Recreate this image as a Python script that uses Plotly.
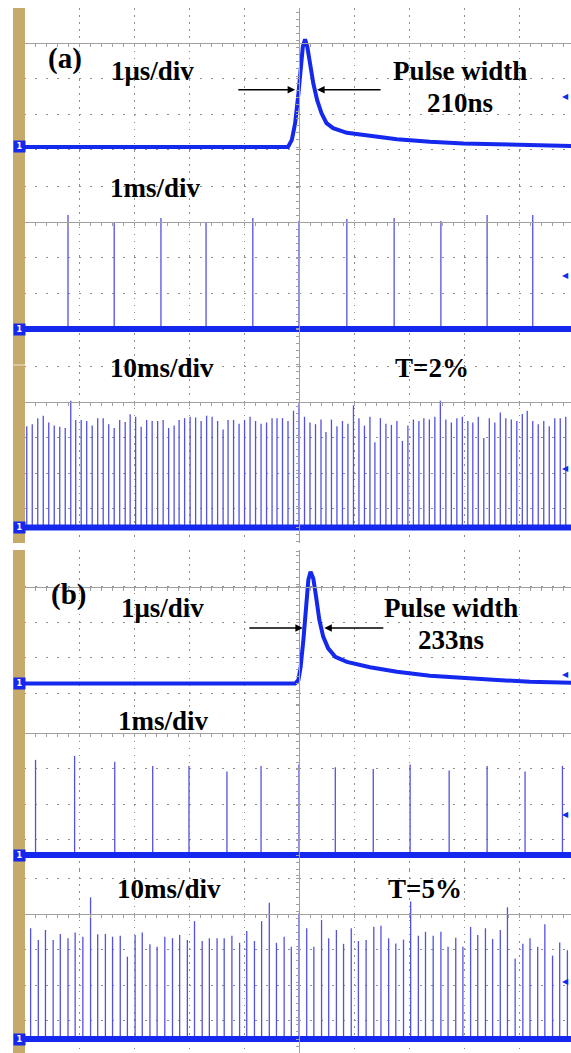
import plotly.graph_objects as go

W, H = 571, 1053

# ---------------- data (amplitudes in divisions above ground) ----------------
# (a) 1 µs/div : single pulse, time in µs
pulse_a_t = [-5.0, -0.20, -0.13, -0.07, -0.01, 0.03, 0.07, 0.11, 0.15, 0.20, 0.26, 0.33,
             0.41, 0.50, 0.62, 0.87, 1.29, 1.78, 2.38, 2.99, 3.60, 4.20, 4.95]
pulse_a_v = [0.0, 0.0, 0.20, 0.67, 1.51, 2.26, 2.83, 3.03, 2.83, 2.36, 1.79, 1.32,
             0.95, 0.67, 0.53, 0.40, 0.31, 0.22, 0.15, 0.10, 0.08, 0.05, 0.03]

# (a) 1 ms/div : pulse train, time in ms
ms_a_t = [-4.20, -3.36, -2.51, -1.69, -0.84, 0.00, 0.87, 1.73, 2.58, 3.42, 4.25]
ms_a_v = [3.21, 2.99, 3.13, 3.01, 3.13, 3.05, 3.10, 3.13, 3.04, 3.21, 3.21]

# (a) 10 ms/div : pulse train, time in ms
ten_a_t = [-49.5, -48.5, -47.5, -46.5, -45.5, -44.5, -43.5, -42.5, -41.5, -40.6,
           -39.6, -38.6, -37.6, -36.6, -35.6, -34.6, -33.6, -32.6, -31.6, -30.7,
           -29.7, -28.7, -27.7, -26.7, -25.7, -24.7, -23.7, -22.7, -21.8, -20.8,
           -19.8, -18.8, -17.8, -16.8, -15.8, -14.8, -13.8, -12.9, -11.9, -10.9,
           -9.9, -8.9, -7.9, -6.9, -5.9, -4.9, -4.0, -3.0, -2.0, -1.0,
           0.0,
           1.0, 2.0, 3.0, 4.0, 4.9, 5.9, 6.9, 7.9, 8.9, 9.9,
           10.9, 11.9, 12.9, 13.8, 14.8, 15.8, 16.8, 17.8, 18.8, 19.8,
           20.8, 21.8, 22.7, 23.7, 24.7, 25.7, 26.7, 27.7, 28.7, 29.7,
           30.7, 31.6, 32.6, 33.6, 34.6, 35.6, 36.6, 37.6, 38.6, 39.6,
           40.6, 41.5, 42.5, 43.5, 44.5, 45.5, 46.5, 47.5, 48.5]
ten_a_v = [2.85, 2.91, 3.08, 3.15, 2.96, 2.87, 2.84, 2.80, 3.57, 3.03,
           3.03, 3.00, 2.87, 3.08, 3.08, 2.91, 2.80, 3.03, 2.97, 3.19,
           3.12, 2.84, 3.03, 3.00, 3.00, 3.03, 2.80, 2.87, 3.03, 3.08,
           3.12, 3.10, 3.00, 3.15, 3.12, 3.00, 2.76, 3.03, 3.03, 2.92,
           3.03, 3.12, 3.00, 2.92, 2.96, 3.08, 3.08, 3.08, 3.00, 3.29,
           3.50,
           3.12, 2.96, 2.91, 3.04, 2.69, 3.04, 2.85, 3.00, 2.92, 3.44,
           3.08, 2.87, 3.12, 2.40, 3.08, 2.92, 2.89, 3.00, 2.44, 2.87,
           3.04, 3.00, 3.08, 3.04, 3.12, 3.57, 3.04, 2.96, 3.08, 3.12,
           3.00, 2.96, 3.12, 2.52, 3.08, 2.96, 3.24, 3.08, 3.04, 3.00,
           3.20, 3.29, 3.00, 2.91, 3.00, 2.85, 3.08, 3.08, 3.12]

# (b) 1 µs/div
pulse_b_t = [-5.0, -0.07, -0.01, 0.03, 0.08, 0.13, 0.17, 0.21, 0.26, 0.31, 0.37, 0.44,
             0.53, 0.66, 0.87, 1.29, 1.78, 2.38, 2.99, 3.60, 4.20, 4.95]
pulse_b_v = [0.0, 0.0, 0.10, 0.47, 1.23, 2.16, 2.92, 3.15, 2.96, 2.45, 1.79, 1.32,
             0.99, 0.75, 0.61, 0.46, 0.33, 0.22, 0.15, 0.10, 0.05, 0.02]

# (b) 1 ms/div
ms_b_t = [-4.79, -4.08, -3.35, -2.66, -2.00, -1.31, -0.69, 0.00, 0.66, 1.35, 2.02,
          2.73, 3.42, 4.11, 4.79]
ms_b_v = [2.68, 2.79, 2.63, 2.51, 2.51, 2.35, 2.51, 2.55, 2.47, 2.42, 2.55,
          2.38, 2.51, 2.35, 2.51]

# (b) 10 ms/div
ten_b_t = [-48.8, -47.4, -46.1, -44.7, -43.4, -42.0, -40.7, -39.3, -37.9, -36.6,
           -35.2, -33.9, -32.5, -31.2, -29.8, -28.5, -27.1, -25.8, -24.4, -23.0,
           -21.7, -20.3, -19.0, -17.6, -16.3, -14.9, -13.6, -12.2, -10.8, -9.5,
           -8.1, -6.8, -5.4, -4.1, -2.7, -1.4,
           0.0,
           1.4, 2.7, 4.1, 5.4, 6.8, 8.1, 9.5, 10.8, 12.2, 13.6,
           14.9, 16.3, 17.6, 19.0, 20.3, 21.7, 23.0, 24.4, 25.8, 27.1,
           28.5, 29.8, 31.2, 32.5, 33.9, 35.2, 36.6, 37.9, 39.3, 40.7,
           42.0, 43.4, 44.7, 46.1, 47.4, 48.8]
ten_b_v = [3.12, 2.79, 3.07, 2.79, 2.96, 2.84, 3.00, 2.88, 3.99, 2.95,
           2.96, 2.88, 2.91, 2.32, 2.93, 3.00, 2.67, 2.60, 2.88, 2.84,
           2.93, 2.79, 3.32, 2.76, 2.84, 2.84, 2.84, 2.91, 2.71, 3.04,
           2.76, 3.32, 3.84, 2.71, 2.88, 2.60, 3.54, 3.12, 2.60, 3.35,
           2.84, 3.07, 2.68, 3.12, 2.76, 2.79, 3.16, 3.19, 2.84, 2.69,
           2.80, 3.87, 2.91, 3.02, 2.91, 3.02, 2.60, 2.85, 2.60, 3.16,
           2.93, 3.12, 2.82, 3.07, 3.71, 2.27, 2.68, 2.84, 2.60, 3.23,
           2.35, 2.72, 2.50]

# trigger-level markers (div above ground) for the six screens
trigger_levels = [1.41, 1.52, 1.65, 0.24, 1.13, 1.61]

# ---------------- layout geometry (pixels) ----------------
PX_DIV_X = 55.0
PX_DIV_Y = 35.5
X_CENTER = 299.0
X_LEFT = 24.0

# (top, bottom, ground, centre line, time units per div)
screens = [
    (8, 184, 147, 43, 1),
    (184, 365, 329, 222, 1),
    (365, 543, 527.5, 402, 10),
    (550, 705, 683.5, 586.5, 1),
    (705, 870, 855, 733, 1),
    (870, 1053, 1039, 914, 10),
]

BLUE = "#1428ee"
SPIKE = "#5252de"
AXC = "#a0a0a0"
GRIDC = "#8e8e8e"

fig = go.Figure()


def px_y(p):
    return 1 - p / H


layout_axes = {}
for i, (top, bot, gnd, cen, scale) in enumerate(screens, start=1):
    xr = [(X_LEFT - X_CENTER) / PX_DIV_X * scale, (W - X_CENTER) / PX_DIV_X * scale]
    yr = [(gnd - bot) / PX_DIV_Y, (gnd - top) / PX_DIV_Y]
    sfx = "" if i == 1 else str(i)
    layout_axes["xaxis" + sfx] = dict(
        domain=[X_LEFT / W, 1], range=xr, anchor="free", position=px_y(cen),
        showline=True, linecolor=AXC, linewidth=1,
        ticks="outside", ticklen=3, tickcolor=AXC, tickwidth=1,
        tick0=0, dtick=scale,
        minor=dict(dtick=scale / 5, ticks="outside", ticklen=3, tickcolor=AXC,
                   tickwidth=1, showgrid=False),
        showticklabels=False, showgrid=True, gridcolor=GRIDC, gridwidth=1.4,
        griddash="1.5px,5.6px", zeroline=False, fixedrange=True,
    )
    layout_axes["yaxis" + sfx] = dict(
        domain=[px_y(bot), px_y(top)], range=yr, anchor="free", position=X_CENTER / W,
        showline=True, linecolor=AXC, linewidth=1,
        ticks="outside", ticklen=3, tickcolor=AXC, tickwidth=1,
        tick0=(gnd - cen) / PX_DIV_Y, dtick=1,
        minor=dict(dtick=0.2, ticks="outside", ticklen=3, tickcolor=AXC,
                   tickwidth=1, showgrid=False),
        showticklabels=False, showgrid=True, gridcolor=GRIDC, gridwidth=1.4,
        griddash="1.5px,9.5px", zeroline=False, fixedrange=True,
    )

fig.update_layout(**layout_axes)


def axes_of(n):
    return ("x" if n == 1 else f"x{n}"), ("y" if n == 1 else f"y{n}")


def add_pulse(t, v, n):
    xa, ya = axes_of(n)
    fig.add_trace(go.Scatter(x=t, y=v, mode="lines", xaxis=xa, yaxis=ya,
                             line=dict(color=BLUE, width=4), hoverinfo="skip"))


def add_train(t, v, n):
    xs, ys = [], []
    for tt, vv in zip(t, v):
        xs += [tt, tt, None]
        ys += [0, vv, None]
    xa, ya = axes_of(n)
    fig.add_trace(go.Scatter(x=xs, y=ys, mode="lines", xaxis=xa, yaxis=ya,
                             line=dict(color=SPIKE, width=1.3), hoverinfo="skip"))
    rng = layout_axes["xaxis" + ("" if n == 1 else str(n))]["range"]
    fig.add_trace(go.Scatter(x=rng, y=[0, 0], mode="lines", xaxis=xa, yaxis=ya,
                             line=dict(color=BLUE, width=6), hoverinfo="skip"))


add_pulse(pulse_a_t, pulse_a_v, 1)
add_train(ms_a_t, ms_a_v, 2)
add_train(ten_a_t, ten_a_v, 3)
add_pulse(pulse_b_t, pulse_b_v, 4)
add_train(ms_b_t, ms_b_v, 5)
add_train(ten_b_t, ten_b_v, 6)

# ---------------- decorations ----------------
TAN = "#c6aa6b"
shapes = [
    dict(type="rect", xref="paper", yref="paper", x0=13 / W, x1=25 / W,
         y0=px_y(543), y1=px_y(8), fillcolor=TAN, line=dict(width=0), layer="above"),
    dict(type="rect", xref="paper", yref="paper", x0=13 / W, x1=25 / W,
         y0=px_y(1053), y1=px_y(550), fillcolor=TAN, line=dict(width=0), layer="above"),
    dict(type="line", xref="paper", yref="paper", x0=13 / W, x1=25 / W,
         y0=px_y(365), y1=px_y(365), line=dict(color="#efe6d0", width=1), layer="above"),
]

FONT = dict(family="Liberation Serif, Times New Roman, serif", size=27, color="black",
            weight="bold")


def label(text, xp, yp, size=27):
    f = dict(FONT)
    f["size"] = size
    return dict(text=text, x=xp / W, y=px_y(yp), xref="paper", yref="paper",
                showarrow=False, xanchor="center", yanchor="middle", font=f)


annotations = [
    label("(a)", 65, 58, 29),
    label("1μs/div", 152, 71),
    label("Pulse width", 460, 71),
    label("210ns", 460, 103),
    label("1ms/div", 155, 188),
    label("10ms/div", 162, 368),
    label("T=2%", 432, 368),
    label("(b)", 68, 594, 29),
    label("1μs/div", 162, 608),
    label("Pulse width", 451, 608),
    label("233ns", 451, 640),
    label("1ms/div", 163, 721),
    label("10ms/div", 169, 889),
    label("T=5%", 425, 889),
]

# pulse-width arrows (tail -> tip, in each screen's own µs / div units)
arrows = [
    (1, -1.13, 1.61, -0.07, 1.61),
    (1, 1.51, 1.61, 0.33, 1.61),
    (4, -0.93, 1.56, 0.07, 1.56),
    (4, 1.56, 1.56, 0.46, 1.56),
]
for n, ax0, ay0, x1, y1 in arrows:
    xa, ya = axes_of(n)
    annotations.append(dict(x=x1, y=y1, ax=ax0, ay=ay0, xref=xa, yref=ya, axref=xa,
                            ayref=ya, showarrow=True, arrowhead=2, arrowsize=1,
                            arrowwidth=1.5, arrowcolor="black", text=""))

# ground markers and trigger markers
for n, lvl in enumerate(trigger_levels, start=1):
    xa, ya = axes_of(n)
    annotations.append(dict(text="<b>1</b>", x=19 / W, y=0, xref="paper", yref=ya,
                            showarrow=False, xanchor="center", yanchor="middle",
                            bgcolor=BLUE, borderpad=1, width=9,
                            font=dict(family="DejaVu Sans", size=8, color="white")))
    annotations.append(dict(text="◀", x=1, y=lvl, xref="paper", yref=ya,
                            showarrow=False, xanchor="right", yanchor="middle",
                            font=dict(family="DejaVu Sans", size=8, color=BLUE)))

fig.update_layout(
    width=W, height=H, margin=dict(l=0, r=0, t=0, b=0),
    paper_bgcolor="white", plot_bgcolor="white", showlegend=False,
    shapes=shapes, annotations=annotations,
)

fig.write_html("out.html", config={"displayModeBar": False})
